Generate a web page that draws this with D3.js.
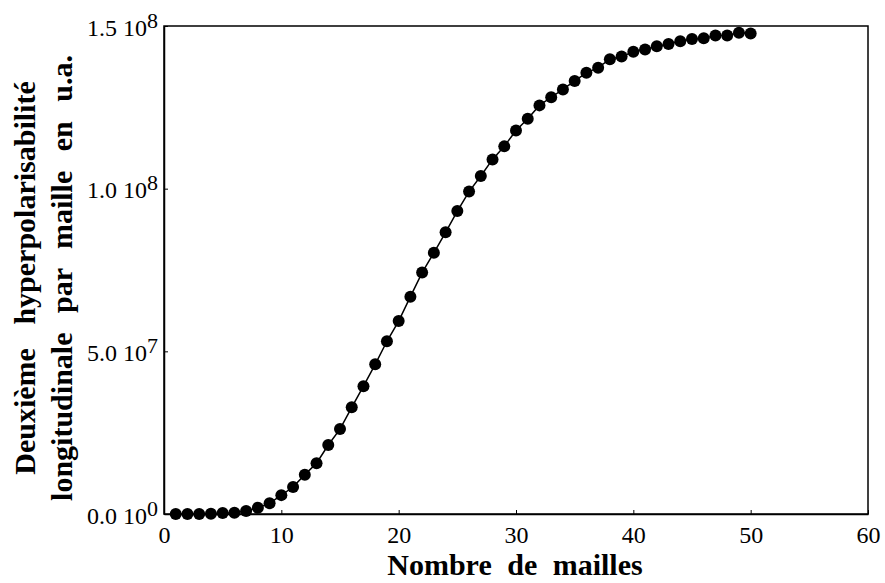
<!DOCTYPE html>
<html>
<head>
<meta charset="utf-8">
<script src="https://cdn.jsdelivr.net/npm/d3@7"></script>
<style>
  html, body { margin: 0; padding: 0; background: #fff; }
  svg { display: block; }
  text { font-family: "Liberation Serif", "Times New Roman", serif; fill: #000; }
</style>
</head>
<body>
<svg id="chart" width="885" height="583"></svg>
<script>
// Number of unit cells (mailles)
const meshes = [1, 2, 3, 4, 5, 6, 7, 8, 9, 10,
                11, 12, 13, 14, 15, 16, 17, 18, 19, 20,
                21, 22, 23, 24, 25, 26, 27, 28, 29, 30,
                31, 32, 33, 34, 35, 36, 37, 38, 39, 40,
                41, 42, 43, 44, 45, 46, 47, 48, 49, 50];

// Longitudinal second hyperpolarizability per cell, in units of 1e6 a.u.
const gammaPerCell = [0.0, 0.0, 0.0, 0.1, 0.3, 0.4, 0.9, 1.9, 3.3, 5.8,
                      8.3, 12.1, 15.6, 21.2, 26.1, 32.8, 39.3, 46.0, 53.1, 59.3,
                      66.8, 74.2, 80.3, 86.6, 93.1, 99.1, 103.9, 109.0, 113.0, 117.9,
                      121.5, 125.6, 128.1, 130.5, 133.1, 135.6, 137.2, 139.8, 140.6, 142.1,
                      142.8, 143.8, 144.5, 145.3, 146.0, 146.2, 147.1, 147.1, 147.9, 147.7];
const UNIT = 1e6;

// Axis ticks
const xTickValues = [0, 10, 20, 30, 40, 50, 60];
const yTickValues = [0, 5e7, 1e8, 1.5e8];
const yTickMantissa = ["0.0", "5.0", "1.0", "1.5"];
const yTickExponent = ["0", "7", "8", "8"];

const xTitle = "Nombre de mailles";
const yTitleLines = ["Deuxième hyperpolarisabilité", "longitudinale par maille en u.a."];

const W = 885, H = 583;
const margin = { top: 26, right: 17, bottom: 69, left: 164 };
const innerW = W - margin.left - margin.right;
const innerH = H - margin.top - margin.bottom;

const svg = d3.select("#chart");
const g = svg.append("g").attr("transform", `translate(${margin.left},${margin.top})`);

const x = d3.scaleLinear().domain([0, 60]).range([0, innerW]);
const y = d3.scaleLinear().domain([0, 1.5e8]).range([innerH, 0]);

// Frame
g.append("rect")
  .attr("x", 0).attr("y", 0)
  .attr("width", innerW).attr("height", innerH)
  .attr("fill", "none").attr("stroke", "#000").attr("stroke-width", 1.5);

// X axis
const xAxis = g.append("g")
  .attr("transform", `translate(0,${innerH})`)
  .call(d3.axisBottom(x).tickValues(xTickValues).tickSizeInner(-4).tickSizeOuter(0).tickPadding(10));
xAxis.select(".domain").attr("stroke", "#000").attr("stroke-width", 1.5);
xAxis.selectAll(".tick line").attr("stroke", "#000").attr("stroke-width", 1);
xAxis.selectAll(".tick text")
  .attr("font-family", "Liberation Serif, serif")
  .attr("font-size", 24)
  .attr("dy", "0.78em");

// Y axis with scientific labels (mantissa + power of ten)
const yAxis = g.append("g")
  .call(d3.axisLeft(y).tickValues(yTickValues).tickSizeInner(-4).tickSizeOuter(0).tickFormat(() => ""));
yAxis.select(".domain").attr("stroke", "#000").attr("stroke-width", 1.5);
yAxis.selectAll(".tick line").attr("stroke", "#000").attr("stroke-width", 1);
yAxis.selectAll(".tick text").each(function(d, i) {
  const t = d3.select(this)
    .attr("x", -6)
    .attr("dy", null)
    .attr("y", 9)
    .attr("text-anchor", "end")
    .attr("font-family", "Liberation Serif, serif")
    .attr("font-size", 24);
  t.append("tspan").text(yTickMantissa[i] + " 10");
  t.append("tspan")
    .attr("font-size", 22)
    .attr("dy", -8)
    .text(yTickExponent[i]);
});

// Curve
const line = d3.line()
  .x((d, i) => x(meshes[i]))
  .y(d => y(d * UNIT));
g.append("path")
  .datum(gammaPerCell)
  .attr("d", line)
  .attr("fill", "none")
  .attr("stroke", "#000")
  .attr("stroke-width", 1.5);

// Points
g.selectAll("circle.pt")
  .data(gammaPerCell)
  .join("circle")
  .attr("class", "pt")
  .attr("cx", (d, i) => x(meshes[i]))
  .attr("cy", d => y(d * UNIT))
  .attr("r", 6)
  .attr("fill", "#000");

// Axis titles
svg.append("text")
  .attr("x", margin.left + innerW / 2 - 1)
  .attr("y", 575)
  .attr("text-anchor", "middle")
  .attr("font-size", 30)
  .attr("font-weight", "bold")
  .style("word-spacing", "8px")
  .text(xTitle);

const yTitle = svg.append("text")
  .attr("transform", "translate(0,278) rotate(-90)")
  .attr("text-anchor", "middle")
  .attr("font-size", 30)
  .attr("font-weight", "bold");
yTitle.append("tspan").attr("x", 0).attr("y", 35).style("word-spacing", "16px").text(yTitleLines[0]);
yTitle.append("tspan").attr("x", 0).attr("y", 72).style("word-spacing", "12px").text(yTitleLines[1]);
</script>
</body>
</html>
